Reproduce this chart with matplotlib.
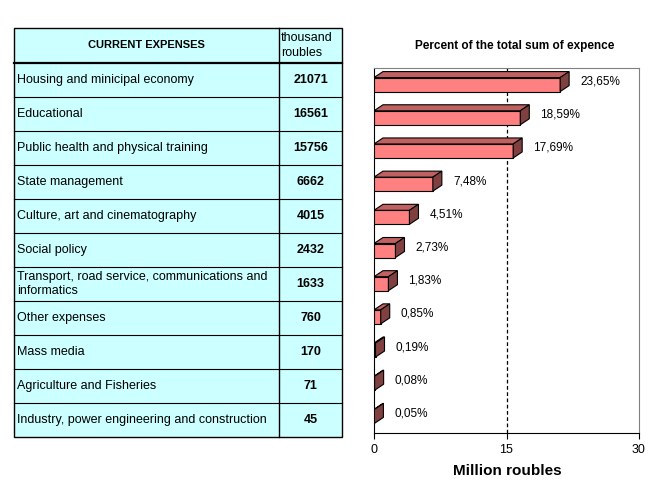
import matplotlib.pyplot as plt
from matplotlib.patches import Polygon, Rectangle

plt.rcParams['font.family'] = ['Liberation Sans', 'DejaVu Sans']

# expense categories, thousand roubles, and share of the total
categories = ['Housing and minicipal economy',
              'Educational',
              'Public health and physical training',
              'State management',
              'Culture, art and cinematography',
              'Social policy',
              'Transport, road service, communications and\ninformatics',
              'Other expenses',
              'Mass media',
              'Agriculture and Fisheries',
              'Industry, power engineering and construction']
thousand_roubles = [21071, 16561, 15756, 6662, 4015, 2432, 1633, 760, 170, 71, 45]
percent_labels = ['23,65%', '18,59%', '17,69%', '7,48%', '4,51%', '2,73%',
                  '1,83%', '0,85%', '0,19%', '0,08%', '0,05%']
x_ticks = [0, 15, 30]

W, H = 660, 480
fig = plt.figure(figsize=(W / 100, H / 100), dpi=100)

# ---- table drawn in pixel coordinates ----
tab = fig.add_axes([0, 0, 1, 1])
tab.set_xlim(0, W)
tab.set_ylim(H, 0)
tab.axis('off')

left, mid, right = 14, 279, 342
top, head_bottom, row_h = 28, 63, 34
n = len(categories)
bottom = head_bottom + n * row_h

tab.add_patch(Rectangle((left, top), right - left, bottom - top,
                        facecolor='#CCFFFF', edgecolor='black', lw=1))
tab.plot([mid, mid], [top, bottom], color='black', lw=1)
tab.plot([left, right], [head_bottom, head_bottom], color='black', lw=1.6)
for i in range(1, n):
    yy = head_bottom + i * row_h
    tab.plot([left, right], [yy, yy], color='black', lw=0.8)

tab.text((left + mid) / 2, (top + head_bottom) / 2, 'CURRENT EXPENSES',
         ha='center', va='center', fontsize=8, fontweight='bold')
tab.text(mid + 2, (top + head_bottom) / 2, 'thousand\nroubles',
         ha='left', va='center', fontsize=9, linespacing=1.3)

for i, (name, val) in enumerate(zip(categories, thousand_roubles)):
    cy = head_bottom + (i + 0.5) * row_h
    tab.text(left + 3, cy, name, ha='left', va='center', fontsize=9,
             linespacing=1.15)
    tab.text((mid + right) / 2, cy, str(val), ha='center', va='center',
             fontsize=9, fontweight='bold')

# ---- 3D-look bar chart ----
ax_l, ax_r, ax_t, ax_b = 374, 639, 68, 433
ax = fig.add_axes([ax_l / W, (H - ax_b) / H, (ax_r - ax_l) / W, (ax_b - ax_t) / H])
ax.set_xlim(0, 30)
ax.set_ylim(-0.5, n - 0.5)

px_x = 30 / (ax_r - ax_l)
px_y = n / (ax_b - ax_t)
dx, dy = 9 * px_x, 6 * px_y
bh = 14 * px_y

for i, val in enumerate(thousand_roubles):
    v = val / 1000
    y = n - 1 - i
    y0, y1 = y - bh / 2, y + bh / 2
    front = Rectangle((0, y0), v, y1 - y0, facecolor='#FF8080',
                      edgecolor='black', lw=0.8, zorder=3)
    topf = Polygon([(0, y1), (v, y1), (v + dx, y1 + dy), (dx, y1 + dy)],
                   facecolor='#C06060', edgecolor='black', lw=0.8, zorder=3)
    side = Polygon([(v, y0), (v + dx, y0 + dy), (v + dx, y1 + dy), (v, y1)],
                   facecolor='#804040', edgecolor='black', lw=0.8, zorder=3)
    for p in (front, topf, side):
        ax.add_patch(p)
    ax.annotate(percent_labels[i], (v + dx, y + dy / 2), xytext=(8, 0),
                textcoords='offset points', ha='left', va='center',
                fontsize=8.5, zorder=4)

ax.axvline(15, color='black', ls=(0, (3, 2)), lw=0.9, zorder=2)
ax.set_xticks(x_ticks)
ax.set_xticklabels([str(t) for t in x_ticks], fontsize=9)
ax.set_yticks([])
ax.tick_params(axis='x', direction='out', length=4, width=0.8, pad=4)
ax.spines['top'].set_color('#808080')
ax.spines['right'].set_color('#808080')
ax.spines['left'].set_color('black')
ax.spines['bottom'].set_color('black')

fig.text(515 / W, 1 - 46 / H, 'Percent of the total sum of expence',
         ha='center', va='center', fontsize=8.5, fontweight='bold')
fig.text(507 / W, 1 - 471 / H, 'Million roubles',
         ha='center', va='center', fontsize=11, fontweight='bold')

fig.savefig('out.png', dpi=100)
